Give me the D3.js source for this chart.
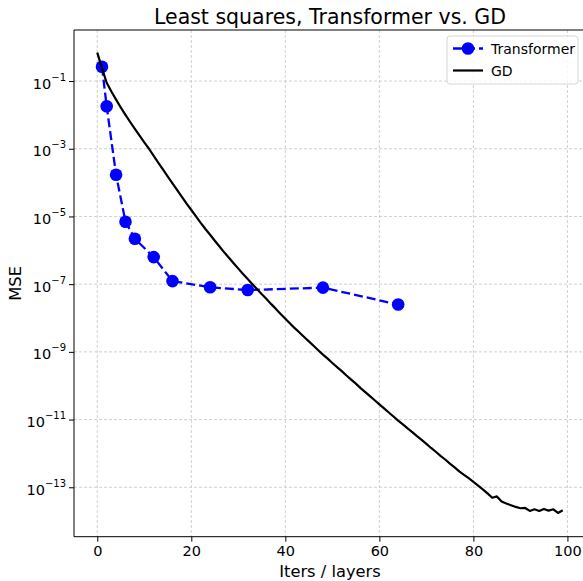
<!DOCTYPE html>
<html>
<head>
<meta charset="utf-8">
<script src="https://cdn.jsdelivr.net/npm/d3@7"></script>
<style>
  body { margin: 0; background: #fff; }
  text { font-family: "DejaVu Sans", sans-serif; fill: #000; }
</style>
</head>
<body>
<div id="chart"></div>
<script>
// transformer: MSE per number of layers
var layers = [1, 2, 4, 6, 8, 12, 16, 24, 32, 48, 64];
var transformerMse = [2.65e-1, 1.8e-2, 1.7e-4, 7.0e-6, 2.2e-6, 6.3e-7, 1.23e-7, 8.1e-8, 6.7e-8, 7.9e-8, 2.5e-8];

// gradient descent: MSE per iteration 0..99
var gdIters = d3.range(0, 100);
var gdMse = [
  6.92e-1, 2.40e-1, 8.91e-2, 4.90e-2, 2.82e-2, 1.66e-2, 1.00e-2, 6.17e-3, 3.89e-3, 2.45e-3,
  1.55e-3, 1.00e-3, 6.17e-4, 3.80e-4, 2.40e-4, 1.51e-4, 9.55e-5, 6.03e-5, 3.80e-5, 2.40e-5,
  1.55e-5, 1.00e-5, 6.46e-6, 4.27e-6, 2.88e-6, 1.91e-6, 1.29e-6, 8.71e-7, 6.03e-7, 4.17e-7,
  2.88e-7, 2.00e-7, 1.41e-7, 1.00e-7, 7.08e-8, 5.01e-8, 3.63e-8, 2.57e-8, 1.86e-8, 1.32e-8,
  9.55e-9, 6.92e-9, 5.01e-9, 3.72e-9, 2.75e-9, 2.04e-9, 1.51e-9, 1.12e-9, 8.32e-10, 6.31e-10,
  4.68e-10, 3.55e-10, 2.69e-10, 2.00e-10, 1.51e-10, 1.15e-10, 8.51e-11, 6.46e-11, 4.90e-11, 3.72e-11,
  2.82e-11, 2.14e-11, 1.62e-11, 1.23e-11, 9.33e-12, 7.24e-12, 5.50e-12, 4.27e-12, 3.24e-12, 2.51e-12,
  1.91e-12, 1.45e-12, 1.12e-12, 8.51e-13, 6.61e-13, 5.01e-13, 3.89e-13, 2.95e-13, 2.34e-13, 1.86e-13,
  1.45e-13, 1.12e-13, 8.71e-14, 6.61e-14, 4.90e-14, 5.37e-14, 3.80e-14, 3.31e-14, 2.95e-14, 2.63e-14,
  2.40e-14, 2.45e-14, 2.00e-14, 2.24e-14, 2.00e-14, 2.29e-14, 2.04e-14, 2.24e-14, 1.74e-14, 2.09e-14
];

var xTickVals = [0, 20, 40, 60, 80, 100];
var yTickExps = [-1, -3, -5, -7, -9, -11, -13];

var W = 583, H = 581;
var L = 74, R = 586, T = 30, B = 536.7;

var svg = d3.select("#chart").append("svg")
  .attr("width", W).attr("height", H);

var x = d3.scaleLinear().domain([-4.95, 103.95]).range([L, R]);
var y = d3.scaleLog().domain([Math.pow(10, 0.508), Math.pow(10, -14.46)]).range([T, B]);

// grid
svg.append("g").selectAll("line.gx")
  .data(xTickVals).enter().append("line")
  .attr("x1", function(d) { return x(d); }).attr("x2", function(d) { return x(d); })
  .attr("y1", T).attr("y2", B)
  .style("stroke", "#c4c4c4").style("stroke-width", 0.8).style("stroke-dasharray", "3,2");
svg.append("g").selectAll("line.gy")
  .data(yTickExps).enter().append("line")
  .attr("x1", L).attr("x2", R)
  .attr("y1", function(d) { return y(Math.pow(10, d)); })
  .attr("y2", function(d) { return y(Math.pow(10, d)); })
  .style("stroke", "#c4c4c4").style("stroke-width", 0.8).style("stroke-dasharray", "3,2");

// transformer (dashed blue with markers)
var tData = layers.map(function(l, i) { return [l, transformerMse[i]]; });
svg.append("path")
  .datum(tData)
  .attr("d", d3.line().x(function(d) { return x(d[0]); }).y(function(d) { return y(d[1]); }))
  .style("fill", "none").style("stroke", "blue").style("stroke-width", 2.3)
  .style("stroke-dasharray", "9,4");
svg.append("g").selectAll("circle")
  .data(tData).enter().append("circle")
  .attr("cx", function(d) { return x(d[0]); })
  .attr("cy", function(d) { return y(d[1]); })
  .attr("r", 6.3)
  .style("fill", "blue");

// GD (solid black)
var gData = gdIters.map(function(it, i) { return [it, gdMse[i]]; });
svg.append("path")
  .datum(gData)
  .attr("d", d3.line().x(function(d) { return x(d[0]); }).y(function(d) { return y(d[1]); }))
  .style("fill", "none").style("stroke", "black").style("stroke-width", 2.2)
  .style("stroke-linejoin", "round");

// axes
var xAxis = svg.append("g")
  .attr("transform", "translate(0," + B + ")")
  .call(d3.axisBottom(x).tickValues(xTickVals).tickSize(5).tickPadding(4).tickFormat(d3.format("d")));
xAxis.selectAll("text").style("font-size", "14.5px").style("font-family", "DejaVu Sans");

var yAxis = svg.append("g")
  .attr("transform", "translate(" + L + ",0)")
  .call(d3.axisLeft(y).tickValues(yTickExps.map(function(e) { return Math.pow(10, e); }))
    .tickSize(5).tickPadding(4).tickFormat(""));
yAxis.selectAll(".tick text").remove();
yAxis.selectAll(".tick").each(function(d, i) {
  var t = d3.select(this).append("text")
    .attr("x", -8).attr("y", 7)
    .style("text-anchor", "end")
    .style("font-size", "14.5px").style("font-family", "DejaVu Sans");
  t.append("tspan").text("10");
  t.append("tspan").attr("dy", -8).style("font-size", "10px")
    .text("\u2212" + Math.abs(yTickExps[i]));
});
svg.selectAll(".domain").remove();
svg.selectAll(".tick line").style("stroke", "#000").style("stroke-width", 1);

// spines
svg.append("line").attr("x1", L).attr("x2", L).attr("y1", T).attr("y2", B).style("stroke", "#000");
svg.append("line").attr("x1", L).attr("x2", R).attr("y1", B).attr("y2", B).style("stroke", "#000");
svg.append("line").attr("x1", L).attr("x2", R).attr("y1", T).attr("y2", T).style("stroke", "#000");

// labels
svg.append("text").attr("x", (L + R) / 2).attr("y", 24)
  .style("text-anchor", "middle").style("font-size", "20.5px")
  .text("Least squares, Transformer vs. GD");
svg.append("text").attr("x", (L + R) / 2).attr("y", 577)
  .style("text-anchor", "middle").style("font-size", "16.3px")
  .text("Iters / layers");
svg.append("text").attr("transform", "translate(21," + ((T + B) / 2) + ") rotate(-90)")
  .style("text-anchor", "middle").style("font-size", "16.3px")
  .text("MSE");

// legend
var lg = svg.append("g");
lg.append("rect").attr("x", 447).attr("y", 36).attr("width", 131).attr("height", 48)
  .attr("rx", 3).style("fill", "#fff").style("fill-opacity", 0.8)
  .style("stroke", "#d6d6d6").style("stroke-width", 1);
lg.append("line").attr("x1", 453).attr("x2", 483).attr("y1", 48.5).attr("y2", 48.5)
  .style("stroke", "blue").style("stroke-width", 2.3).style("stroke-dasharray", "9,4");
lg.append("circle").attr("cx", 468).attr("cy", 48.5).attr("r", 6.3).style("fill", "blue");
lg.append("text").attr("x", 491).attr("y", 53.5).style("font-size", "14px").text("Transformer");
lg.append("line").attr("x1", 453).attr("x2", 483).attr("y1", 70.5).attr("y2", 70.5)
  .style("stroke", "black").style("stroke-width", 2.2);
lg.append("text").attr("x", 491).attr("y", 75.5).style("font-size", "14px").text("GD");
</script>
</body>
</html>
